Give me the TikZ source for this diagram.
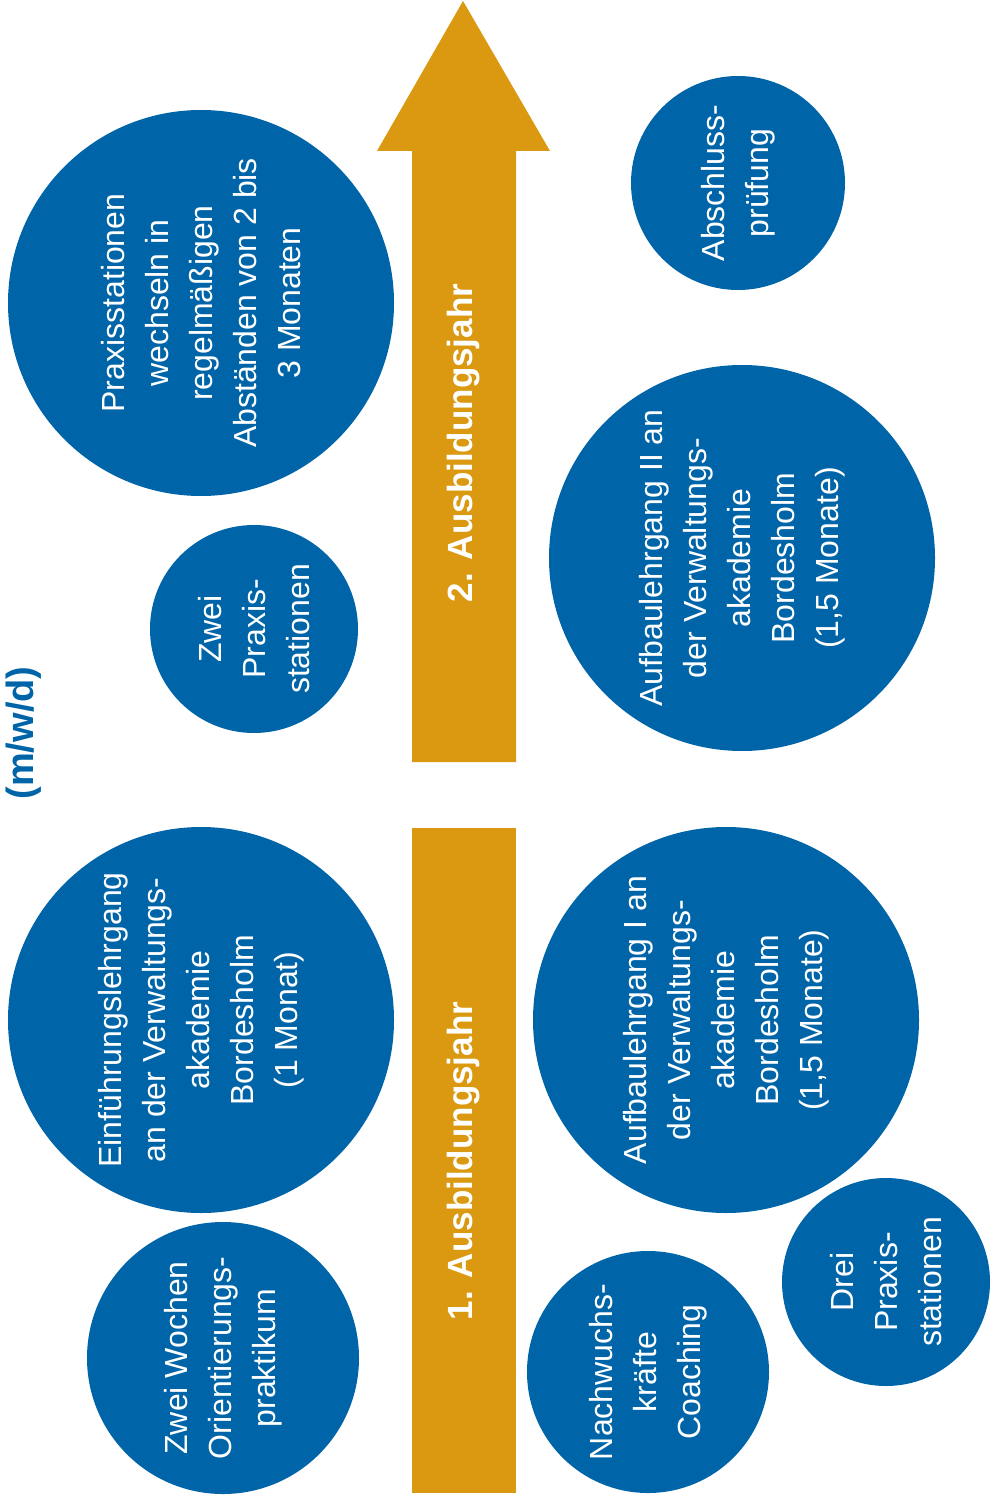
\documentclass[tikz,border=0pt]{standalone}
\usepackage{fontspec}
\setmainfont{Liberation Sans}
\definecolor{vablue}{RGB}{0,101,168}
\definecolor{vaorange}{RGB}{218,153,17}
\begin{document}
\begin{tikzpicture}[x=0.5pt,y=-0.5pt,
	bubble/.style={circle, fill=vablue, text=white, inner sep=0pt, rotate=90, align=center, font=\fontsize{16}{22}\selectfont},
	yearlabel/.style={rotate=90, text=white, inner sep=0pt, font=\bfseries\fontsize{17.5}{20}\selectfont}]
	\useasboundingbox (0,0) rectangle (990,1502);
	\fill [vaorange] (412,762) -- (412,151) -- (377,151) -- (463,1) -- (550,151) -- (516,151) -- (516,762) -- cycle;
	\fill [vaorange] (412,828) rectangle (516,1493);
	\node [yearlabel] (jahrzwei) at (464,443) {2. Ausbildungsjahr};
	\node [yearlabel] (jahreins) at (464,1161) {1. Ausbildungsjahr};
	\node [rotate=90, text=vablue, inner sep=0pt, font=\bfseries\fontsize{19}{22}\selectfont] (mwd) at (24,733) {(m/w/d)};
	\node [bubble, minimum size=193pt] (praxwechsel) at (201,303) {Praxisstationen\\wechseln in\\regelmäßigen\\Abständen von 2 bis\\3 Monaten};
	\node [bubble, minimum size=104pt] (zweipraxis) at (254,629) {Zwei\\Praxis-\\stationen};
	\node [bubble, minimum size=107pt] (abschluss) at (738,183) {Abschluss-\\prüfung};
	\node [bubble, minimum size=193pt] (aufbauzwei) at (742,558) {Aufbaulehrgang II an\\der Verwaltungs-\\akademie\\Bordesholm\\(1,5 Monate)};
	\node [bubble, minimum size=193pt] (einfuehrung) at (201,1020) {Einführungslehrgang\\an der Verwaltungs-\\akademie\\Bordesholm\\(1 Monat)};
	\node [bubble, minimum size=136pt] (orientierung) at (223,1358) {Zwei Wochen\\Orientierungs-\\praktikum};
	\node [bubble, minimum size=193pt] (aufbaueins) at (726,1020) {Aufbaulehrgang I an\\der Verwaltungs-\\akademie\\Bordesholm\\(1,5 Monate)};
	\node [bubble, minimum size=121pt] (coaching) at (648,1372) {Nachwuchs-\\kräfte\\Coaching};
	\node [bubble, minimum size=104pt] (dreipraxis) at (886,1282) {Drei\\Praxis-\\stationen};
\end{tikzpicture}
\end{document}
